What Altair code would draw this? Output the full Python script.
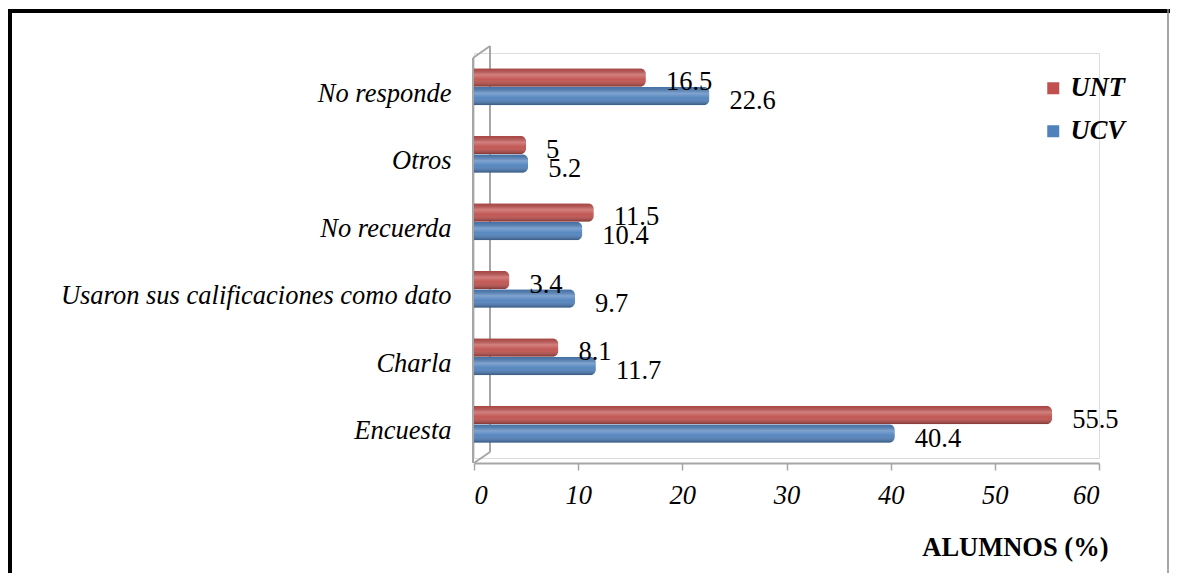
import altair as alt
import pandas as pd

categories = ["No responde", "Otros", "No recuerda",
              "Usaron sus calificaciones como dato", "Charla", "Encuesta"]
unt_values = [16.5, 5, 11.5, 3.4, 8.1, 55.5]
ucv_values = [22.6, 5.2, 10.4, 9.7, 11.7, 40.4]
series = ["UNT", "UCV"]
colors = ["#c0504d", "#4f81bd"]
x_ticks = [0, 10, 20, 30, 40, 50, 60]

rows = []
for c, u, v in zip(categories, unt_values, ucv_values):
    rows.append({"Categoria": c, "Serie": "UNT", "Valor": u, "Label": f"{u:g}"})
    rows.append({"Categoria": c, "Serie": "UCV", "Valor": v, "Label": f"{v:g}"})
df = pd.DataFrame(rows)

FONT = "Liberation Serif, Times New Roman, Times, serif"
FS = 26.5
GRAY = "#a6a6a6"

y_enc = alt.Y("Categoria:N", sort=categories,
              scale=alt.Scale(paddingInner=0.45, paddingOuter=0.225),
              axis=alt.Axis(title=None, labelFont=FONT, labelFontSize=FS,
                            labelFontStyle="italic", labelColor="black",
                            labelPadding=23, labelOffset=7, ticks=False, domain=False,
                            labelLimit=600))
x_enc = alt.X("Valor:Q", scale=alt.Scale(domain=[0, 60], nice=False),
              axis=alt.Axis(values=x_ticks, title="ALUMNOS (%)", grid=False,
                            labelFont=FONT, labelFontSize=FS, labelFontStyle="italic",
                            labelColor="black", labelPadding=12, tickColor=GRAY,
                            tickSize=7, tickWidth=1.5, domainColor=GRAY, domainWidth=2,
                            offset=5, titleFont=FONT, titleFontSize=FS,
                            titleFontWeight="bold", titleColor="black",
                            titleAnchor="end", titleAlign="right", titleX=634,
                            titlePadding=26))
yoff = alt.YOffset("Serie:N", sort=series, scale=alt.Scale(paddingInner=0, paddingOuter=0))

base = alt.Chart(df)

bars = base.mark_bar(cornerRadiusEnd=6).encode(
    y=y_enc, x=x_enc, yOffset=yoff,
    color=alt.Color("Serie:N", sort=series,
                    scale=alt.Scale(domain=series, range=colors),
                    legend=alt.Legend(title=None, orient="none", legendX=566, legendY=22,
                                      symbolType="square", symbolSize=144,
                                      symbolStrokeWidth=0,
                                      labelFont=FONT, labelFontSize=FS,
                                      labelFontStyle="italic", labelFontWeight="bold",
                                      labelColor="black", rowPadding=16, labelOffset=4))
)

shade = base.mark_bar(
    cornerRadiusEnd=6,
    fill=alt.Gradient(gradient="linear", x1=0, x2=0, y1=0, y2=1,
                      stops=[alt.GradientStop(color="rgba(0,0,0,0.12)", offset=0),
                             alt.GradientStop(color="rgba(255,255,255,0.28)", offset=0.35),
                             alt.GradientStop(color="rgba(255,255,255,0.05)", offset=0.6),
                             alt.GradientStop(color="rgba(0,0,0,0.35)", offset=1)])
).encode(y=alt.Y("Categoria:N", sort=categories), x="Valor:Q",
         yOffset=alt.YOffset("Serie:N", sort=series))

labels = base.mark_text(align="left", baseline="middle", dx=20, dy=5,
                        font=FONT, fontSize=FS, color="black").encode(
    y=alt.Y("Categoria:N", sort=categories), x="Valor:Q",
    yOffset=alt.YOffset("Serie:N", sort=series), text="Label:N")

one = pd.DataFrame({"k": [0]})

def line(x, y, x2, y2, color=GRAY, w=2):
    return alt.Chart(one).mark_rule(color=color, strokeWidth=w).encode(
        x=alt.value(x), y=alt.value(y), x2=alt.value(x2), y2=alt.value(y2))

wall = [
    line(-1, 5, -1, 410),
    line(-1, 5, 16, -7),
    line(16, -7, 16, 399),
    line(16, 399, 0, 410),
]
frame = [
    line(-466, -42, 720, -42, "black", 4),
    line(-464, -44, -464, 600, "black", 4),
    line(694, -44, 694, 600, "#888888", 1.5),
]

chart = alt.layer(*wall, bars, shade, labels, *frame).properties(
    width=625, height=405,
    autosize=alt.AutoSizeParams(type="none"),
    padding={"left": 466, "top": 45, "right": 71, "bottom": 115},
).configure_view(stroke=None).configure(background="white")

chart.save("out.html", embed_options={"renderer": "svg", "actions": False})
